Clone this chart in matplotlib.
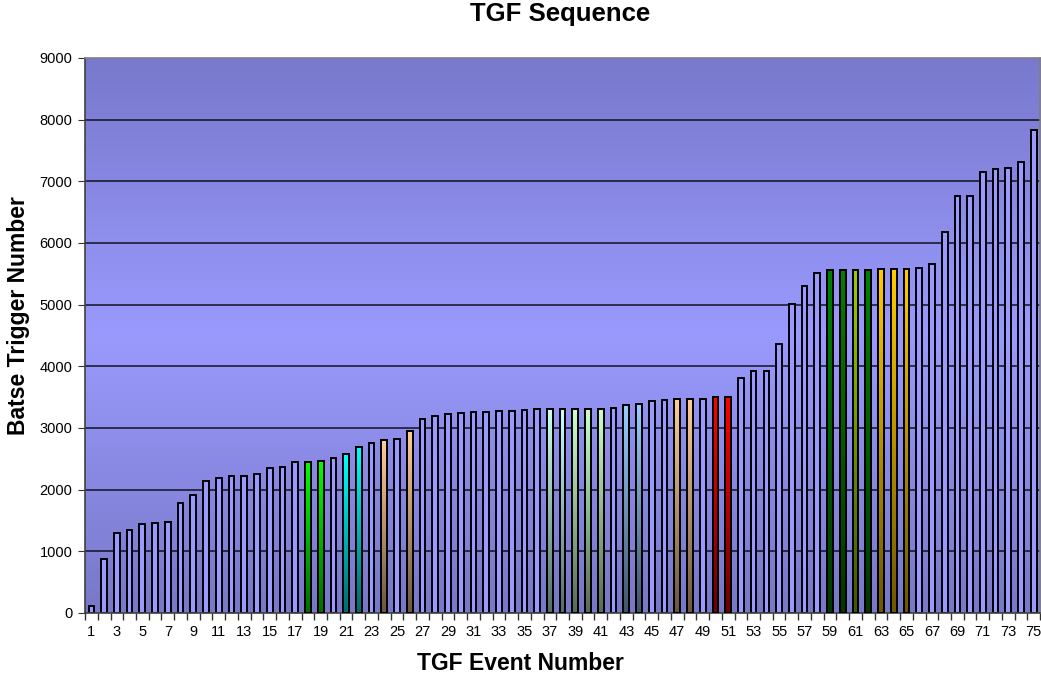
import matplotlib
matplotlib.use("Agg")
import matplotlib.pyplot as plt
import numpy as np
from matplotlib.colors import LinearSegmentedColormap, to_rgb

plt.rcParams['font.family'] = ['Liberation Sans', 'DejaVu Sans']

# trigger number for each TGF event
events = list(range(1, 76))
triggers = [114, 876, 1303, 1340, 1443, 1465, 1476, 1789, 1913, 2146,
            2184, 2222, 2227, 2254, 2346, 2373, 2449, 2454, 2470, 2513,
            2573, 2692, 2751, 2805, 2827, 2957, 3146, 3195, 3232, 3243,
            3254, 3259, 3276, 3281, 3286, 3302, 3308, 3308, 3308, 3313,
            3313, 3330, 3378, 3384, 3443, 3454, 3465, 3476, 3476, 3497,
            3497, 3811, 3919, 3924, 4357, 5005, 5308, 5508, 5567, 5567,
            5567, 5567, 5578, 5578, 5578, 5589, 5654, 6173, 6762, 6762,
            7157, 7195, 7216, 7314, 7827]

# highlighted events and their colours
highlight = {18: '#00ff00', 19: '#00ff00',
             21: '#00ffff', 22: '#00ffff',
             24: '#ffcc99', 26: '#ffcc99',
             37: '#ccffee', 38: '#ccffff',
             39: '#ccffcc', 40: '#ccffcc', 41: '#ccffcc',
             43: '#99ccff', 44: '#99ccff',
             47: '#ffcc99', 48: '#ffcc99',
             50: '#ff0000', 51: '#ff0000',
             59: '#008000', 60: '#008000', 61: '#99cc00', 62: '#008000',
             63: '#ffcc00', 64: '#ffcc00', 65: '#ffcc00'}

y_ticks = [0, 1000, 2000, 3000, 4000, 5000, 6000, 7000, 8000, 9000]

fig = plt.figure(figsize=(10.41, 6.78), dpi=100)
ax = fig.add_axes([0.0817, 0.0959, 0.9175, 0.8186])

ymax = 9000
x0, x1 = 0.5, len(events) + 0.5

# background: darker at top and bottom, lightest around the middle
bg = LinearSegmentedColormap.from_list(
    'bg', [(0.0, '#7878c8'), (0.5, '#9a9afe'), (1.0, '#7878cc')])
grad = np.linspace(0, 1, 256).reshape(-1, 1)
ax.imshow(grad, cmap=bg, extent=[x0, x1, 0, ymax], aspect='auto',
          origin='lower', zorder=0, interpolation='bicubic')

for yt in y_ticks[1:-1]:
    ax.axhline(yt, color='#111122', lw=1.1, zorder=1)

width = 0.45
bars = ax.bar(events, triggers, width=width, color='#9999ff',
              edgecolor='black', linewidth=1.4, zorder=2)

# colored bars get a vertical gradient, bright at the top
for ev, col in highlight.items():
    b = bars[ev - 1]
    top = np.array(to_rgb(col))
    cm = LinearSegmentedColormap.from_list('c%d' % ev, [top * 0.42, top])
    im = ax.imshow(grad, cmap=cm, origin='lower', aspect='auto',
                   extent=[b.get_x(), b.get_x() + width, 0, b.get_height()],
                   zorder=2.5)
    im.set_clip_path(b)
    ax.bar(ev, triggers[ev - 1], width=width, color='none',
           edgecolor='black', linewidth=1.4, zorder=3)

ax.set_xlim(x0, x1)
ax.set_ylim(0, ymax)
ax.set_yticks(y_ticks)
ax.set_xticks(events[::2])
ax.set_xticks(np.arange(x0, x1 + 0.01, 1), minor=True)
ax.tick_params(axis='x', which='major', length=0, pad=9, labelsize=10.5)
ax.tick_params(axis='x', which='minor', length=5, color='#333333', width=1)
ax.tick_params(axis='y', length=5, color='#333333', labelsize=10.5, pad=4)

for s in ax.spines.values():
    s.set_color('#808080')
    s.set_linewidth(1.2)
ax.spines['left'].set_color('#404040')
ax.spines['bottom'].set_color('#404040')

fig.text(0.5, 1 - 663 / 678, 'TGF Event Number', ha='center', va='center',
         fontsize=16.5, fontweight='bold')
fig.text(0.018, 1 - 316 / 678, 'Batse Trigger Number', ha='center',
         va='center', rotation=90, fontsize=16.5, fontweight='bold')
fig.text(0.538, 1 - 14 / 678, 'TGF Sequence', ha='center', va='center',
         fontsize=18.5, fontweight='bold')

fig.savefig('out.png', dpi=100)
